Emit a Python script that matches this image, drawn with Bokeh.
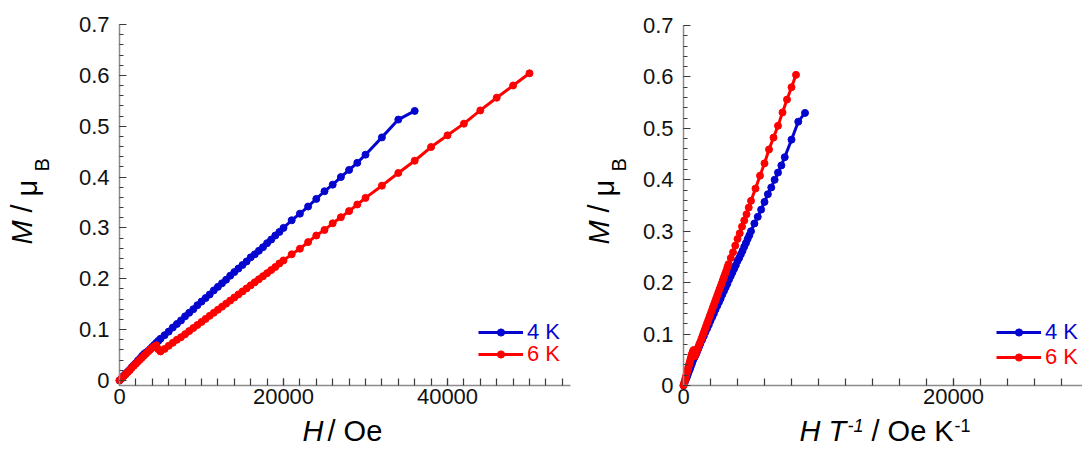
import math
import numpy as np
from bokeh.plotting import figure
from bokeh.models import Range1d, FixedTicker, Label, Legend, LegendItem, LinearAxis
from bokeh.layouts import row
from bokeh.embed import file_html
from bokeh.resources import INLINE

# ---------------- data ----------------
H_4K = [0, 250, 500, 750, 1000, 1250, 1500, 1750, 2000, 2250, 2500, 2750, 3000, 3250, 3500,
        3750, 4000, 4250, 4500, 4750, 5000,
        5500, 6000, 6500, 7000, 7500, 8000, 8500, 9000, 9500, 10000, 10500, 11000, 11500,
        12000, 12500, 13000, 13500, 14000, 14500, 15000, 15500, 16000, 16500, 17000, 17500,
        18000, 18500, 19000, 19500, 20000,
        21000, 22000, 23000, 24000, 25000, 26000, 27000, 28000, 29000, 30000,
        32000, 34000, 36000]
M_4K = [0.000, 0.004, 0.009, 0.013, 0.017, 0.021, 0.026, 0.030, 0.034, 0.039, 0.043, 0.048,
        0.052, 0.055, 0.058, 0.062, 0.066, 0.070, 0.074, 0.078, 0.082,
        0.089, 0.096, 0.104, 0.111, 0.118, 0.126, 0.133, 0.140, 0.148, 0.155, 0.162, 0.169,
        0.177, 0.184, 0.191, 0.198, 0.206, 0.213, 0.220, 0.227, 0.234, 0.242, 0.248, 0.255,
        0.262, 0.270, 0.277, 0.285, 0.292, 0.300,
        0.315, 0.328, 0.342, 0.357, 0.372, 0.385, 0.400, 0.414, 0.428, 0.444,
        0.478, 0.513, 0.530]

H_6K = [0, 250, 500, 750, 1000, 1250, 1500, 1750, 2000, 2250, 2500, 2750, 3000, 3250, 3500,
        3750, 4000, 4250, 4500, 4750, 5000,
        5500, 6000, 6500, 7000, 7500, 8000, 8500, 9000, 9500, 10000, 10500, 11000, 11500,
        12000, 12500, 13000, 13500, 14000, 14500, 15000, 15500, 16000, 16500, 17000, 17500,
        18000, 18500, 19000, 19500, 20000,
        21000, 22000, 23000, 24000, 25000, 26000, 27000, 28000, 29000, 30000,
        32000, 34000, 36000, 38000, 40000, 42000, 44000, 46000, 48000, 50000]
M_6K = [0.000, 0.004, 0.008, 0.012, 0.016, 0.020, 0.025, 0.029, 0.033, 0.037, 0.041, 0.045,
        0.049, 0.053, 0.057, 0.061, 0.064, 0.067, 0.069, 0.061, 0.057,
        0.062, 0.068, 0.074, 0.080, 0.085, 0.091, 0.097, 0.103, 0.109, 0.115, 0.121, 0.127,
        0.133, 0.139, 0.145, 0.151, 0.157, 0.163, 0.169, 0.175, 0.181, 0.187, 0.193, 0.199,
        0.205, 0.211, 0.217, 0.223, 0.230, 0.236,
        0.248, 0.259, 0.272, 0.285, 0.296, 0.309, 0.321, 0.333, 0.346, 0.359,
        0.383, 0.408, 0.432, 0.459, 0.482, 0.505, 0.531, 0.556, 0.580, 0.604]

TEMPS = [4.0, 6.0]
SERIES_LABELS = ["4 K", "6 K"]
COLORS = ["#0505d0", "#ff0000"]

Y_TICKS = [0, 0.1, 0.2, 0.3, 0.4, 0.5, 0.6, 0.7]
Y_TICK_LABELS = ["0", "0.1", "0.2", "0.3", "0.4", "0.5", "0.6", "0.7"]
X_TICKS_LEFT = [0, 20000, 40000]
X_TICK_LABELS_LEFT = ["0", "20000", "40000"]
X_TICKS_RIGHT = [0, 20000]
X_TICK_LABELS_RIGHT = ["0", "20000"]

FONT = "Liberation Sans"
HEIGHT = 449


def span(d0, p0, d1, p1, total):
    """range so that data d0 sits at pixel p0 and d1 at pixel p1 (canvas of size total)"""
    k = (d1 - d0) / (p1 - p0)
    return d0 + (0 - p0) * k, d0 + (total - p0) * k


def make_fig(width, xr, yr, x_axis_at, y_axis_at, x_bounds, y_bounds, x_ticks, x_labels, x_minor_max):
    p = figure(width=width, height=HEIGHT, output_backend="svg", toolbar_location=None,
               x_range=Range1d(*xr), y_range=Range1d(*yr),
               x_axis_location=None, y_axis_location=None, min_border=0)
    p.grid.visible = False
    p.outline_line_color = None
    p.background_fill_color = "white"
    p.border_fill_color = "white"
    xa = LinearAxis(fixed_location=x_axis_at, bounds=x_bounds)
    ya = LinearAxis(fixed_location=y_axis_at, bounds=y_bounds)
    p.add_layout(xa, "below")
    p.add_layout(ya, "left")
    for ax in (xa, ya):
        ax.axis_line_color = "#8c8c8c"
        ax.axis_line_width = 1.5
        ax.major_tick_line_color = "#3a3a3a"
        ax.minor_tick_line_color = "#3a3a3a"
        ax.major_tick_line_width = 1.2
        ax.minor_tick_line_width = 1.2
        ax.major_tick_out = 0
        ax.minor_tick_out = 0
        ax.major_label_text_font = FONT
        ax.major_label_text_font_size = "22px"
        ax.major_label_text_color = "#111111"
    ya.major_tick_in = 7
    ya.minor_tick_in = 4
    xa.major_tick_in = 7
    xa.minor_tick_in = 7
    ya.major_label_standoff = 10
    xa.major_label_standoff = 3
    ya.ticker = FixedTicker(ticks=Y_TICKS,
                            minor_ticks=list(np.round(np.arange(0, 0.7001, 0.02), 3)))
    ya.major_label_overrides = {t: l for t, l in zip(Y_TICKS, Y_TICK_LABELS)}
    xa.ticker = FixedTicker(ticks=x_ticks, minor_ticks=list(range(0, x_minor_max + 1, 2000)))
    xa.major_label_overrides = {t: l for t, l in zip(x_ticks, x_labels)}
    return p


def add_text(p, x, y, text, size=29, italic=False, angle=0.0):
    # anchor given as the wanted baseline point; Bokeh's alphabetic anchor sits ~0.38 em higher
    shift = 0.38 * size
    if angle:
        x = x - shift
    else:
        y = y - shift
    p.add_layout(Label(x=x, y=y, x_units="canvas", y_units="canvas", text=text,
                       angle=angle, text_font=FONT, text_font_size=f"{size}px",
                       text_font_style="italic" if italic else "normal",
                       text_align="left", text_baseline="alphabetic",
                       text_color="#000000"))


def add_series_and_legends(p, xs_list, ys_list, legend_x, legend_ys):
    for xs, ys, color, lab, ly in zip(xs_list, ys_list, COLORS, SERIES_LABELS, legend_ys):
        ln = p.line(xs, ys, line_color=color, line_width=3)
        sc = p.scatter(xs, ys, size=7, fill_color=color, line_color=color)
        leg = Legend(items=[LegendItem(label=lab, renderers=[ln, sc])],
                     location=(legend_x, ly), margin=0, padding=0, spacing=0,
                     glyph_width=45, glyph_height=18, label_height=18,
                     label_standoff=4, border_line_color=None,
                     background_fill_alpha=0, label_text_font=FONT,
                     label_text_font_size="22px", label_text_color=color)
        p.add_layout(leg)


def y_label(p, x_base):
    rot = math.pi / 2
    add_text(p, x_base, 244, "M", italic=True, angle=rot)
    add_text(p, x_base, 212, "/", angle=rot)
    add_text(p, x_base + 5, 196, "\u03bc", angle=rot)
    add_text(p, x_base + 16, 171, "B", size=20, angle=rot)


# ---------------- left panel: M vs H ----------------
W1 = 575
p1 = make_fig(W1,
              span(0, 119, 55000, 570, W1),
              span(0.7, 24, -0.01, 385, HEIGHT)[::-1],
              -0.01, 0, (0, 55000), (-0.01, 0.7),
              X_TICKS_LEFT, X_TICK_LABELS_LEFT, 54000)
add_series_and_legends(p1, [H_4K, H_6K], [M_4K, M_6K], 478, [104, 82])
y_label(p1, 33)
add_text(p1, 302, 442, "H", italic=True)
add_text(p1, 327, 442, "/ Oe")

# ---------------- right panel: M vs H/T ----------------
W2 = 1082 - W1
HT_4K = [h / TEMPS[0] for h in H_4K]
HT_6K = [h / TEMPS[1] for h in H_6K]
p2 = make_fig(W2,
              span(0, 108, 20000, 378, W2),
              span(0.7, 25, 0, 385, HEIGHT)[::-1],
              0, 0, (0, 30000), (0, 0.7),
              X_TICKS_RIGHT, X_TICK_LABELS_RIGHT, 28000)
add_series_and_legends(p2, [HT_4K, HT_6K], [M_4K, M_6K], 421, [104, 79])
y_label(p2, 35)
add_text(p2, 224, 442, "H T", italic=True)
add_text(p2, 272, 432, "-1", size=18, italic=True)
add_text(p2, 296, 442, "/ Oe K")
add_text(p2, 379, 432, "-1", size=18)

layout = row(p1, p2)
open("out.html", "w").write(file_html(layout, INLINE))
